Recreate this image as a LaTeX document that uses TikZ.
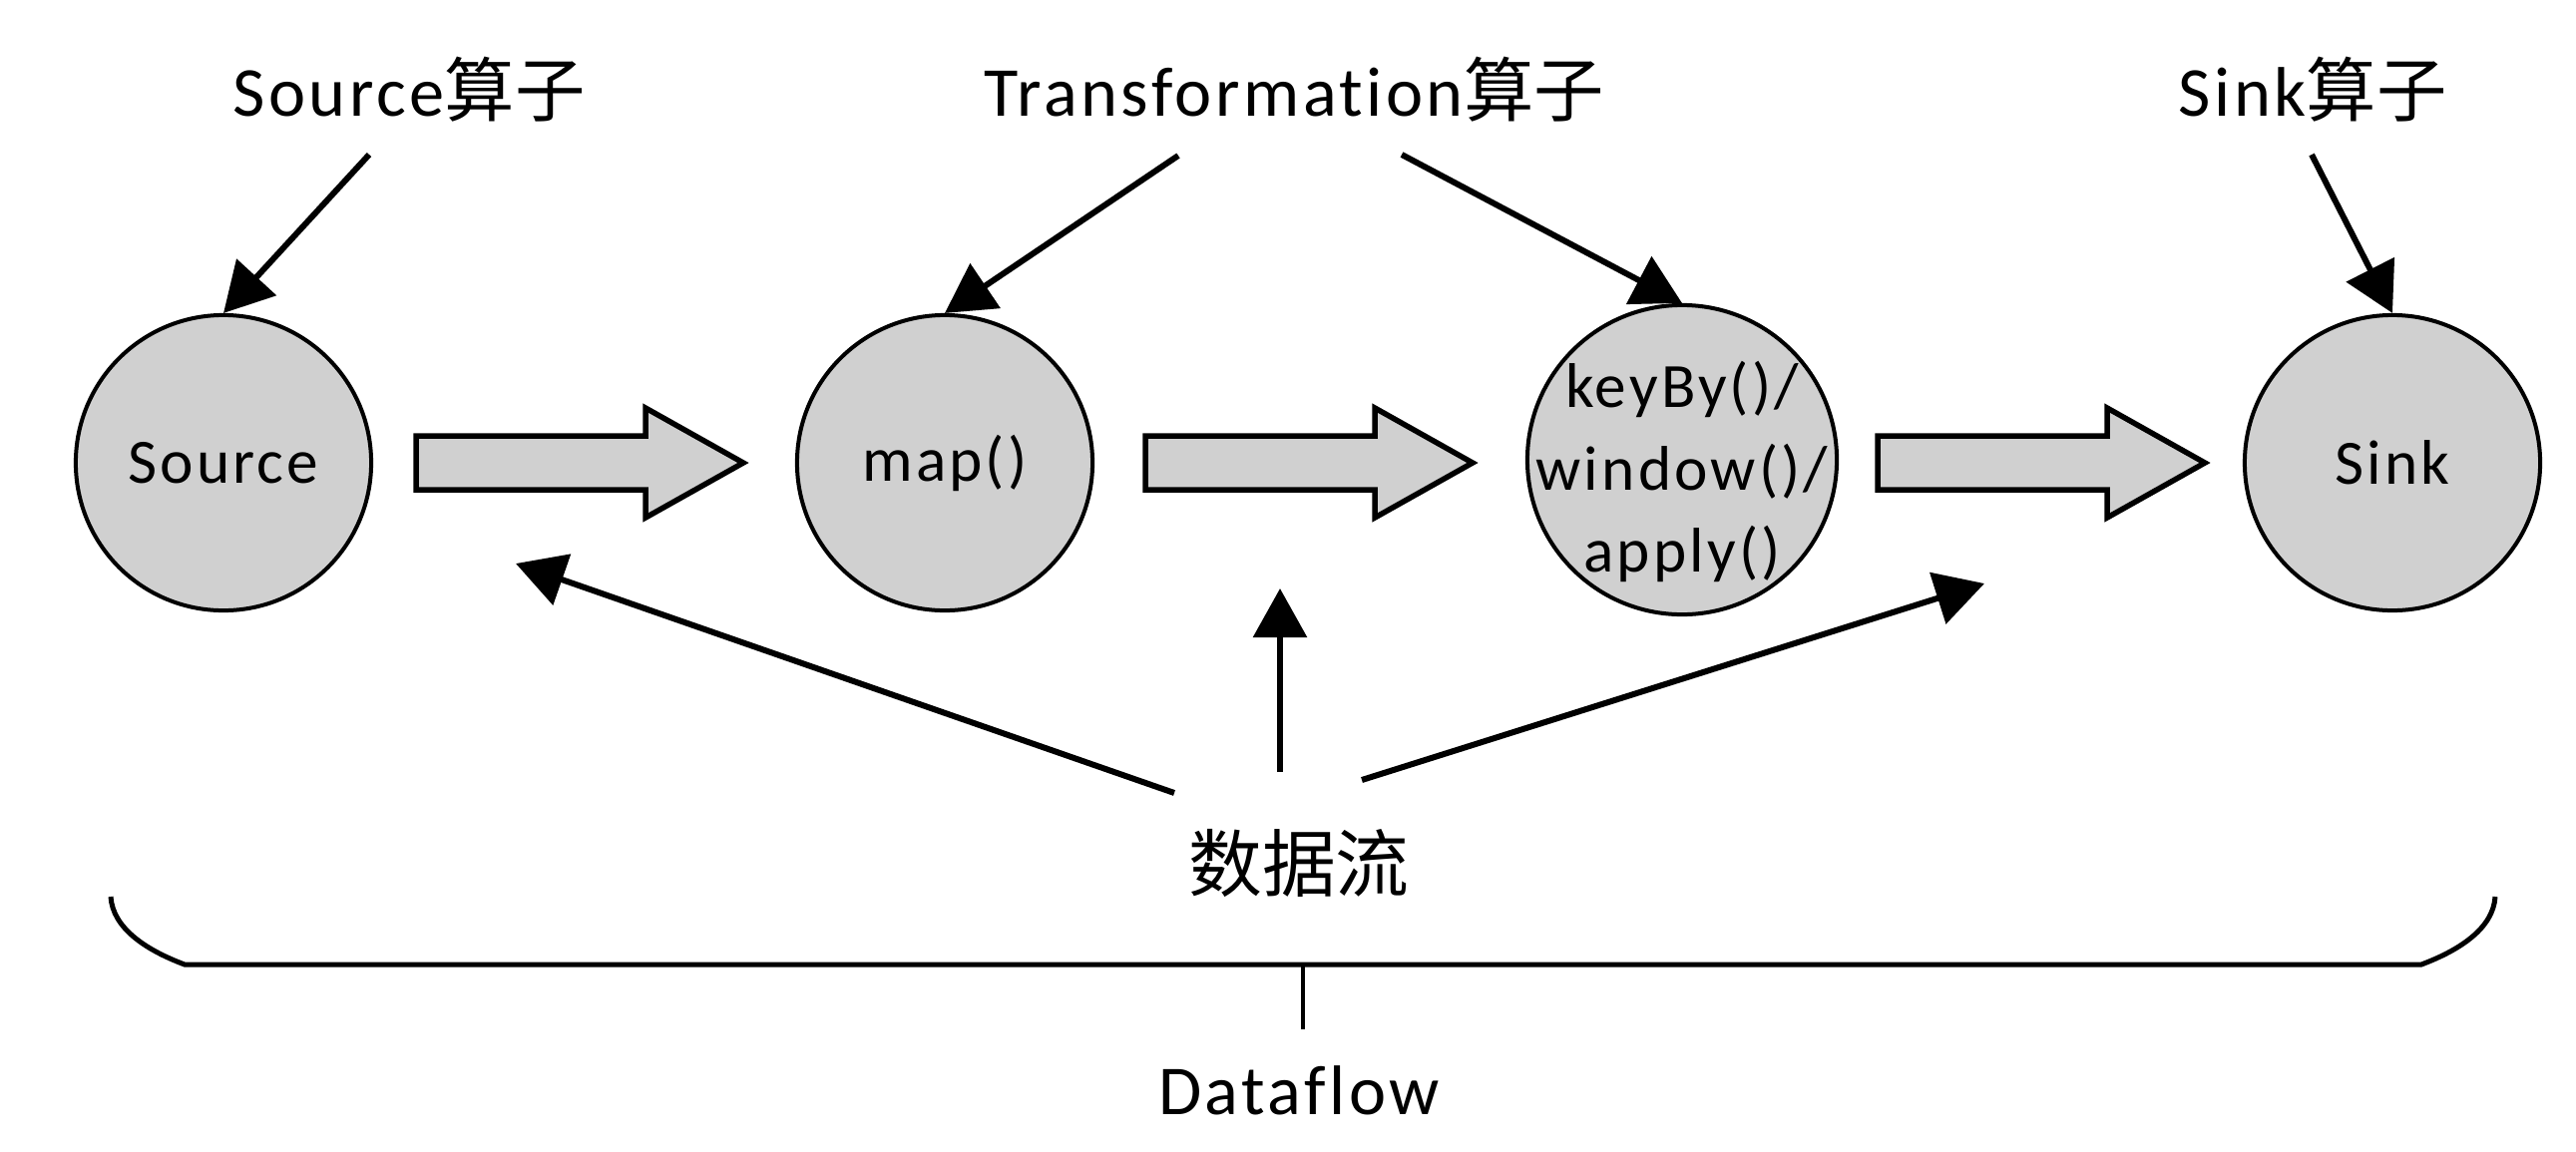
\documentclass[tikz,border=0pt]{standalone}
\usepackage{fontspec}
\setmainfont{Carlito}[Ligatures=NoCommon, LetterSpace=5]
\newfontfamily\cjk{Noto Sans CJK SC}
\usepackage{xcolor}
\usepackage{tikz}
\usetikzlibrary{arrows.meta, positioning}
\definecolor{opgray}{RGB}{208,208,208}
\tikzstyle{opnode} = [circle, fill=opgray, draw=black, line width=0.04cm,
minimum size=2.96cm, inner sep=0pt, align=center,
font=\fontsize{18}{23}\selectfont]
\tikzstyle{opname} = [inner sep=0pt, anchor=base, font=\fontsize{20}{24}\selectfont]
\tikzstyle{arrow} = [-{Triangle[length=0.49cm, width=0.53cm]}, line width=0.06cm]
\tikzstyle{flowarrow} = [fill=opgray, draw=black, line width=0.055cm, line join=miter]

\begin{document}
\begin{tikzpicture}[x=0.01cm, y=-0.01cm]
    \useasboundingbox (0,0) rectangle (2582,1154);

    % operators
    \node (src)   [opnode] at (224,464)  {Source};
    \node (map)   [opnode] at (947,464)  {map()};
    \node (keyby) [opnode, minimum size=3.1cm] at (1686,461) {};
    \node (keybytext) [align=center, inner sep=0pt, font=\fontsize{18}{23.5}\selectfont]
        at ([yshift=-0.12cm]keyby.center) {keyBy()/\\window()/\\apply()};
    \node (sink)  [opnode] at (2398,464) {Sink};

    % stream between operators
    \foreach \bx in {417,1148,1882}
        \draw[flowarrow] (\bx,437) -- ++(230,0) -- ++(0,-28) -- ++(98,55)
            -- ++(-98,55) -- ++(0,-28) -- ++(-230,0) -- cycle;

    % operator labels
    \node (srcname)   [opname] at (410,116)  {Source{\cjk 算子}};
    \node (transname) [opname] at (1297,116) {Transformation{\cjk 算子}};
    \node (sinkname)  [opname] at (2318,116) {Sink{\cjk 算子}};

    \coordinate (s1) at (370,155);
    \coordinate (t1) at (1181,156);
    \coordinate (t2) at (1405,155);
    \coordinate (k1) at (2317,155);

    \draw[arrow] (s1) -- (src.north);
    \draw[arrow] (t1) -- (map.north);
    \draw[arrow] (t2) -- (keyby.north);
    \draw[arrow] (k1) -- (sink.north);

    % data stream
    \node (stream) [opname, font=\fontsize{21}{24}\selectfont] at (1302,893) {\cjk 数据流};

    \coordinate (d1) at (1177,795);
    \coordinate (d2) at (1283,774);
    \coordinate (d3) at (1365,782);
    \coordinate (e1) at (517,565);
    \coordinate (e2) at (1283,590);
    \coordinate (e3) at (1989,585);

    \draw[arrow] (d1) -- (e1);
    \draw[arrow] (d2) -- (e2);
    \draw[arrow] (d3) -- (e3);

    % brace
    \draw[line width=0.05cm] (111,899) .. controls (113,930) and (145,952) .. (185,967)
        -- (2427,967) .. controls (2467,952) and (2499,930) .. (2501,899);
    \coordinate (tick) at (1306,967);
    \node (dataflow) [opname] at (1302,1117) {Dataflow};
    \draw[line width=0.045cm] (tick) -- ++(0,65);
\end{tikzpicture}
\end{document}
